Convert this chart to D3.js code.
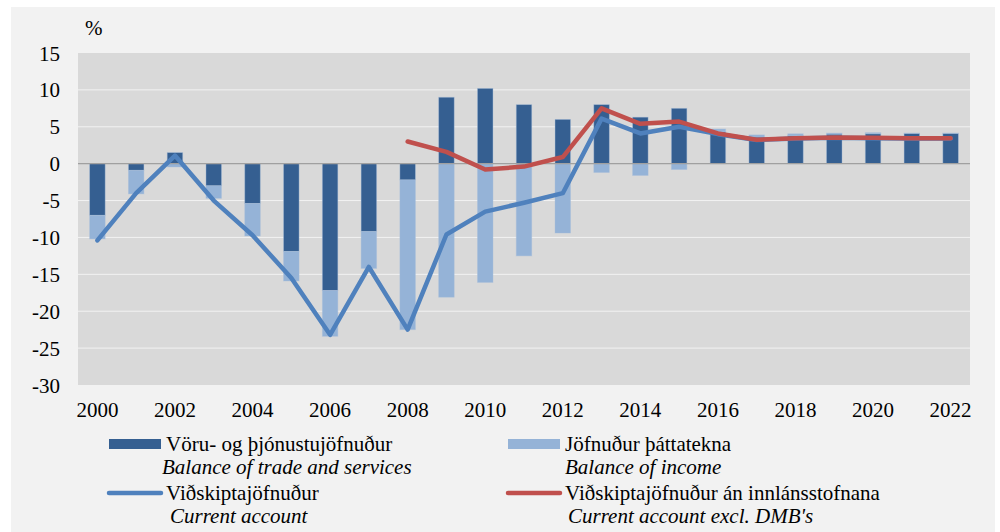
<!DOCTYPE html>
<html>
<head>
<meta charset="utf-8">
<script src="https://cdn.jsdelivr.net/npm/d3@7.9.0/dist/d3.min.js"></script>
</head>
<body style="margin:0; background:#ffffff">
<svg id="chart" width="1000" height="532" font-family="Liberation Serif"></svg>
<script>
// --- data ---
const years = d3.range(2000, 2023);
const trade = [-7.0, -0.9, 1.5, -3.0, -5.4, -11.9, -17.2, -9.2, -2.2, 9.0, 10.2, 8.0, 6.0, 8.0, 6.3, 7.5, 4.3, 3.6, 3.8, 4.0, 4.05, 4.1, 4.1];
const income = [-3.2, -3.2, -0.45, -1.7, -4.4, -4.0, -6.2, -5.0, -20.3, -18.1, -16.1, -12.5, -9.4, -1.2, -1.6, -0.8, 0.4, 0.3, 0.25, 0.15, 0.15, 0.05, 0.05];
const currentAccount = [-10.4, -4.0, 1.1, -5.0, -9.7, -15.5, -23.2, -14.0, -22.5, -9.6, -6.5, -5.3, -4.0, 6.1, 4.1, 5.0, 4.0, 3.2, 3.4, 3.5, 3.45, 3.4, 3.4];
const caExclDMB = [null, null, null, null, null, null, null, null, 3.0, 1.6, -0.8, -0.4, 0.9, 7.5, 5.4, 5.7, 4.1, 3.25, 3.45, 3.55, 3.5, 3.45, 3.45];
const yTicks = [15, 10, 5, 0, -5, -10, -15, -20, -25, -30];
const xTickYears = d3.range(2000, 2023, 2);

const colors = { trade: '#355f91', income: '#95b3d7', ca: '#4f81bd', dmb: '#c0504d' };
const FONT = 'Liberation Serif';
const FS = 21;

const svg = d3.select('#chart');
const plot = { left: 78, top: 53, right: 970, bottom: 385 };

// panel background
svg.append('rect').attr('x', 11).attr('y', 7).attr('width', 984).attr('height', 525).attr('fill', '#f2f2f2');

const x = d3.scaleBand().domain(years).range([plot.left, plot.right]).paddingInner(0.6).paddingOuter(0.3);
const y = d3.scaleLinear().domain([-30, 15]).range([plot.bottom, plot.top]);

svg.append('rect')
  .attr('x', plot.left).attr('y', plot.top)
  .attr('width', plot.right - plot.left).attr('height', plot.bottom - plot.top)
  .attr('fill', '#d9d9d9');

// gridlines
svg.append('g')
  .selectAll('line')
  .data(yTicks.filter(d => d !== 0 && d !== 15 && d !== -30))
  .join('line')
  .attr('x1', plot.left).attr('x2', plot.right)
  .attr('y1', d => y(d)).attr('y2', d => y(d))
  .attr('stroke', '#f2f2f2').attr('stroke-width', 1);

// stacked bars: positives stack up from 0, negatives stack down
const rows = years.map((yr, i) => ({ year: yr, trade: trade[i], income: income[i] }));
const stacked = d3.stack().keys(['trade', 'income']).offset(d3.stackOffsetDiverging)(rows);

svg.append('g')
  .selectAll('g')
  .data(stacked)
  .join('g')
  .attr('fill', d => colors[d.key])
  .selectAll('rect')
  .data(d => d)
  .join('rect')
  .attr('x', d => x(d.data.year))
  .attr('width', x.bandwidth())
  .attr('y', d => y(Math.max(d[0], d[1])))
  .attr('height', d => Math.abs(y(d[0]) - y(d[1])))
  .attr('stroke', '#a9bfdc').attr('stroke-opacity', 0.5).attr('stroke-width', 0.8);

// zero line
svg.append('line')
  .attr('x1', plot.left).attr('x2', plot.right)
  .attr('y1', y(0)).attr('y2', y(0))
  .attr('stroke', '#a0a0a0').attr('stroke-width', 1.2);

// lines
const cx = d => x(d) + x.bandwidth() / 2;
const line = d3.line()
  .defined(d => d[1] !== null)
  .x(d => cx(d[0]))
  .y(d => y(d[1]));

svg.append('path')
  .datum(years.map((yr, i) => [yr, currentAccount[i]]))
  .attr('d', line)
  .attr('fill', 'none').attr('stroke', colors.ca)
  .attr('stroke-width', 4.5).attr('stroke-linejoin', 'round').attr('stroke-linecap', 'round');

svg.append('path')
  .datum(years.map((yr, i) => [yr, caExclDMB[i]]))
  .attr('d', line)
  .attr('fill', 'none').attr('stroke', colors.dmb)
  .attr('stroke-width', 4.5).attr('stroke-linejoin', 'round').attr('stroke-linecap', 'round');

// axes text
svg.append('g')
  .selectAll('text')
  .data(yTicks)
  .join('text')
  .attr('x', 60).attr('y', d => y(d) + 7.5)
  .attr('text-anchor', 'end')
  .attr('font-family', FONT)
  .attr('font-size', FS)
  .text(d => d);

svg.append('text').attr('x', 85).attr('y', 35).attr('font-family', FONT).attr('font-size', FS).text('%');

svg.append('g')
  .selectAll('text')
  .data(xTickYears)
  .join('text')
  .attr('x', d => cx(d)).attr('y', 417)
  .attr('text-anchor', 'middle')
  .attr('font-family', FONT)
  .attr('font-size', FS)
  .text(d => d);

// legend
const legend = [
  { type: 'rect', color: colors.trade, x: 109, y: 444, label: 'Vöru- og þjónustujöfnuður', sub: 'Balance of trade and services', subX: 162 },
  { type: 'rect', color: colors.income, x: 508, y: 444, label: 'Jöfnuður þáttatekna', sub: 'Balance of income', subX: 565 },
  { type: 'line', color: colors.ca, x: 109, y: 493, label: 'Viðskiptajöfnuður', sub: 'Current account', subX: 170 },
  { type: 'line', color: colors.dmb, x: 508, y: 493, label: 'Viðskiptajöfnuður án innlánsstofnana', sub: "Current account excl. DMB's", subX: 568 },
];

const lg = svg.append('g');
legend.forEach(d => {
  if (d.type === 'rect') {
    lg.append('rect').attr('x', d.x).attr('y', d.y - 5).attr('width', 52).attr('height', 10).attr('fill', d.color);
  } else {
    lg.append('line').attr('x1', d.x).attr('x2', d.x + 52).attr('y1', d.y).attr('y2', d.y)
      .attr('stroke', d.color).attr('stroke-width', 4.5).attr('stroke-linecap', 'round');
  }
  lg.append('text').attr('x', d.x + 57).attr('y', d.y + 7)
    .attr('font-family', FONT).attr('font-size', FS).text(d.label);
  lg.append('text').attr('x', d.subX).attr('y', d.y + 29.5)
    .attr('font-family', FONT).attr('font-size', FS).attr('font-style', 'italic').text(d.sub);
});
</script>
</body>
</html>
